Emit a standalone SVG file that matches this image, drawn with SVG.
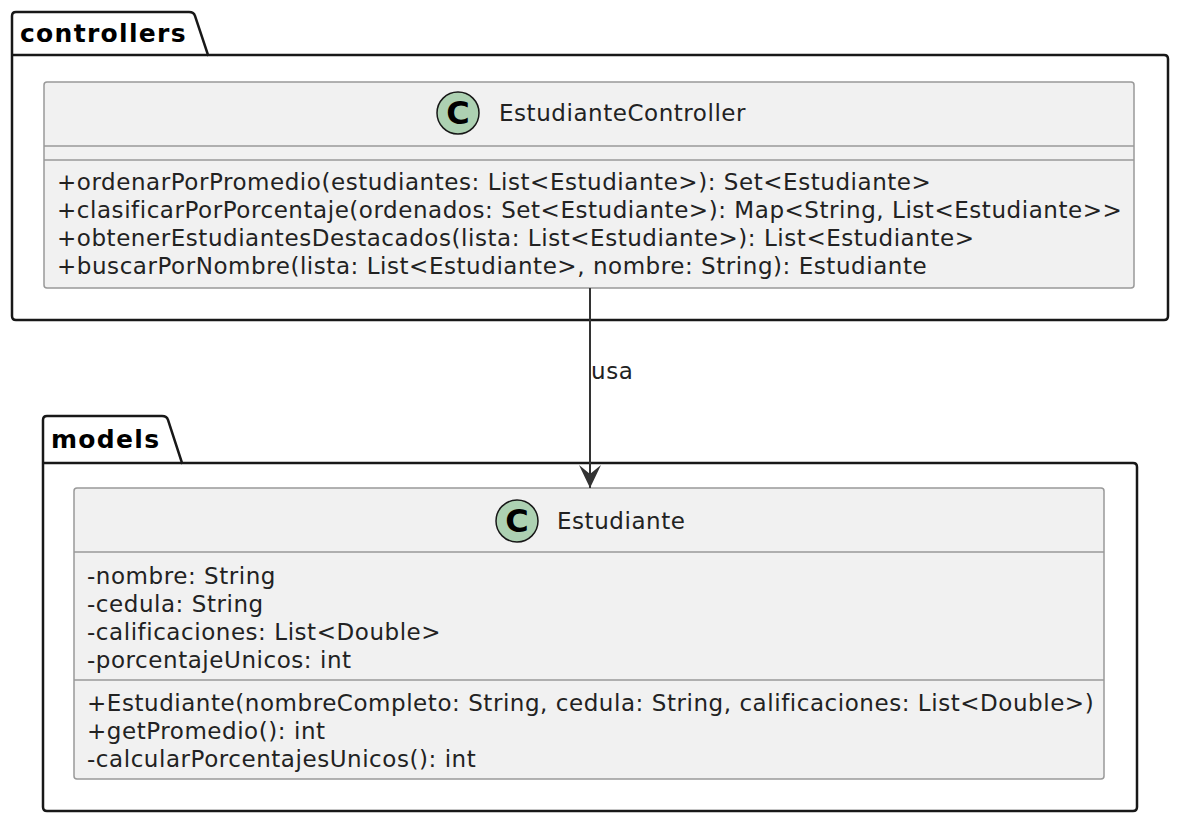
<svg xmlns="http://www.w3.org/2000/svg" width="1194" height="838" viewBox="0 0 1194 838">
<style>
.pkg{fill:#FFFFFF;stroke:#181818;stroke-width:2.5}
.pkgname{font-family:"DejaVu Sans",sans-serif;font-weight:bold;font-size:25px;letter-spacing:1.3px;fill:#000}
.cls{fill:#F1F1F1;stroke:#999999;stroke-width:1.5}
.sep{stroke:#999999;stroke-width:1.5}
.circ{fill:#ADD1B2;stroke:#181818;stroke-width:1.5}
.cl{font-family:"DejaVu Sans",sans-serif;font-weight:bold;font-size:32px;fill:#000}
.name{font-family:"DejaVu Sans",sans-serif;font-size:23px;letter-spacing:0.55px;fill:#222}
.mem{font-family:"DejaVu Sans",sans-serif;font-size:23px;letter-spacing:0.55px;fill:#222}
.edge{stroke:#333;stroke-width:2;fill:none}
</style>
<defs>
<marker id="arr" markerWidth="24" markerHeight="24" refX="23" refY="12" orient="auto" markerUnits="userSpaceOnUse" viewBox="0 0 24 24">
<path d="M0,1 L23,12 L0,23 L9,12 Z" fill="#333"/>
</marker>
</defs>
<rect width="1194" height="838" fill="#FFFFFF"/>
<g id="pkg-controllers">
<path class="pkg" d="M16,12 L189,12 Q194,12 195,16 L208,55 L1164,55 Q1168,55 1168,59 L1168,316 Q1168,320 1164,320 L16,320 Q12,320 12,316 L12,16 Q12,12 16,12 Z"/>
<line x1="12" y1="55" x2="208" y2="55" stroke="#181818" stroke-width="2.5"/>
<text class="pkgname" x="20" y="42">controllers</text>
</g>
<g id="pkg-models">
<path class="pkg" d="M47,416 L162,416 Q167,416 168,420 L182,463 L1133,463 Q1137,463 1137,467 L1137,807 Q1137,811 1133,811 L47,811 Q43,811 43,807 L43,420 Q43,416 47,416 Z"/>
<line x1="43" y1="463" x2="182" y2="463" stroke="#181818" stroke-width="2.5"/>
<text class="pkgname" x="51" y="448">models</text>
</g>
<g id="EstudianteController">
<rect class="cls" x="44" y="82" width="1090" height="206" rx="3"/>
<line class="sep" x1="44" y1="146" x2="1134" y2="146"/>
<line class="sep" x1="44" y1="160" x2="1134" y2="160"/>
<circle class="circ" cx="458" cy="113" r="21"/>
<text class="cl" x="458" y="124" text-anchor="middle">C</text>
<text class="name" x="499" y="121">EstudianteController</text>
<text class="mem" x="57" y="190">+ordenarPorPromedio(estudiantes: List&lt;Estudiante&gt;): Set&lt;Estudiante&gt;</text>
<text class="mem" x="57" y="218">+clasificarPorPorcentaje(ordenados: Set&lt;Estudiante&gt;): Map&lt;String, List&lt;Estudiante&gt;&gt;</text>
<text class="mem" x="57" y="246">+obtenerEstudiantesDestacados(lista: List&lt;Estudiante&gt;): List&lt;Estudiante&gt;</text>
<text class="mem" x="57" y="274">+buscarPorNombre(lista: List&lt;Estudiante&gt;, nombre: String): Estudiante</text>
</g>
<g id="Estudiante">
<rect class="cls" x="74" y="488" width="1030" height="291" rx="3"/>
<line class="sep" x1="74" y1="552" x2="1104" y2="552"/>
<line class="sep" x1="74" y1="680" x2="1104" y2="680"/>
<circle class="circ" cx="517" cy="521" r="21"/>
<text class="cl" x="517" y="532" text-anchor="middle">C</text>
<text class="name" x="557" y="529">Estudiante</text>
<text class="mem" x="87" y="584">-nombre: String</text>
<text class="mem" x="87" y="612">-cedula: String</text>
<text class="mem" x="87" y="640">-calificaciones: List&lt;Double&gt;</text>
<text class="mem" x="87" y="668">-porcentajeUnicos: int</text>
<text class="mem" x="87" y="711">+Estudiante(nombreCompleto: String, cedula: String, calificaciones: List&lt;Double&gt;)</text>
<text class="mem" x="87" y="739">+getPromedio(): int</text>
<text class="mem" x="87" y="767">-calcularPorcentajesUnicos(): int</text>
</g>
<g id="connectors">
<line class="edge" x1="590" y1="288" x2="590" y2="488" marker-end="url(#arr)"/>
<text class="name" x="591" y="379">usa</text>
</g>
</svg>
